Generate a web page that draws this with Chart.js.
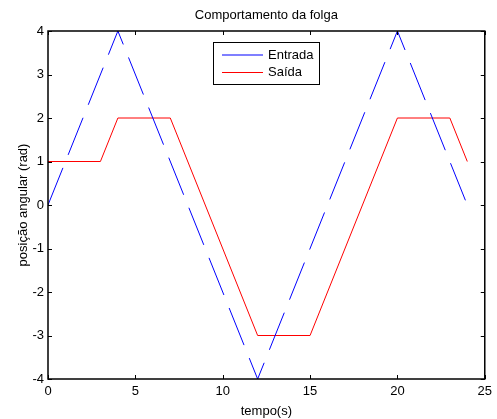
<!DOCTYPE html>
<html>
<head>
<meta charset="utf-8">
<script src="https://cdn.jsdelivr.net/npm/chart.js@4"></script>
<style>
  body { margin: 0; background: #fff; }
  #wrap { width: 497px; height: 419px; }
</style>
</head>
<body>
<div id="wrap"><canvas id="folgaChart"></canvas></div>
<script>
// dados
const tempoEntrada = [0, 4, 12, 20, 24];
const entrada = [0, 4, -4, 4, 0];
const tempoSaida = [0, 3, 4, 7, 12, 15, 20, 23, 24];
const saida = [1, 1, 2, 2, -3, -3, 2, 2, 1];

const toPoints = (xs, ys) => xs.map((x, i) => ({ x: x, y: ys[i] }));

const FONT = "'Liberation Sans', Arial, sans-serif";

// caixa + ticks para dentro (estilo matlab) e legenda dentro do grafico
const matlabAxes = {
    id: 'matlabAxes',
    afterDraw(chart) {
        const c = chart.ctx;
        const a = chart.chartArea;
        const sx = chart.scales.x, sy = chart.scales.y;
        c.save();
        c.strokeStyle = '#000';
        c.lineWidth = 1;
        c.beginPath();
        sx.ticks.forEach(t => {
            const px = Math.round(sx.getPixelForValue(t.value)) + 0.5;
            c.moveTo(px, a.bottom); c.lineTo(px, a.bottom - 4);
            c.moveTo(px, a.top); c.lineTo(px, a.top + 4);
        });
        sy.ticks.forEach(t => {
            const py = Math.round(sy.getPixelForValue(t.value)) + 0.5;
            c.moveTo(a.left, py); c.lineTo(a.left + 4, py);
            c.moveTo(a.right, py); c.lineTo(a.right - 4, py);
        });
        c.stroke();
        c.lineWidth = 1.5;
        c.strokeRect(a.left, a.top, a.right - a.left, a.bottom - a.top);

        // legenda
        const bx = 213, by = 42, bw = 106, bh = 42;
        c.fillStyle = '#fff';
        c.fillRect(bx, by, bw, bh);
        c.lineWidth = 1;
        c.strokeStyle = '#000';
        c.strokeRect(bx + 0.5, by + 0.5, bw, bh);
        c.font = '13px ' + FONT;
        c.textBaseline = 'middle';
        chart.data.datasets.forEach((ds, i) => {
            const y = by + 13 + i * 17.5;
            c.strokeStyle = ds.borderColor;
            c.lineWidth = 1.2;
            c.beginPath();
            c.moveTo(bx + 9, y); c.lineTo(bx + 50, y);
            c.stroke();
            c.fillStyle = '#000';
            c.fillText(ds.label, bx + 55, y);
        });
        c.restore();
    }
};

new Chart(document.getElementById('folgaChart'), {
    type: 'line',
    data: {
        datasets: [{
            label: 'Entrada',
            data: toPoints(tempoEntrada, entrada),
            borderColor: '#0000ff',
            borderWidth: 1,
            borderDash: [40, 14],
            pointRadius: 0,
            tension: 0
        }, {
            label: 'Saída',
            data: toPoints(tempoSaida, saida),
            borderColor: '#ff0000',
            borderWidth: 1,
            pointRadius: 0,
            tension: 0
        }]
    },
    options: {
        responsive: true,
        maintainAspectRatio: false,
        animation: false,
        layout: { padding: { top: 1, right: 7, left: 0, bottom: 0 } },
        plugins: {
            legend: { display: false },
            tooltip: { enabled: false },
            title: {
                display: true,
                text: 'Comportamento da folga',
                fullSize: false,
                color: '#000',
                font: { family: FONT, size: 13, weight: 'normal' },
                padding: { top: 7, bottom: 7.4 }
            }
        },
        scales: {
            x: {
                type: 'linear',
                min: 0,
                max: 25,
                ticks: { stepSize: 5, color: '#000', padding: 5, maxRotation: 0,
                         font: { family: FONT, size: 13 } },
                grid: { display: false, drawTicks: false },
                border: { display: false },
                title: { display: true, text: 'tempo(s)', color: '#000', padding: { top: 2, bottom: 0 },
                         font: { family: FONT, size: 13 } },
                afterFit(s) { s.height = 40; }
            },
            y: {
                min: -4,
                max: 4,
                ticks: { stepSize: 1, color: '#000', padding: 4,
                         font: { family: FONT, size: 13 } },
                grid: { display: false, drawTicks: false },
                border: { display: false },
                title: { display: true, text: 'posição angular (rad)', color: '#000', padding: { top: 16, bottom: 0 },
                         font: { family: FONT, size: 13 } },
                afterFit(s) { s.width = 48; }
            }
        }
    },
    plugins: [matlabAxes]
});
</script>
</body>
</html>
